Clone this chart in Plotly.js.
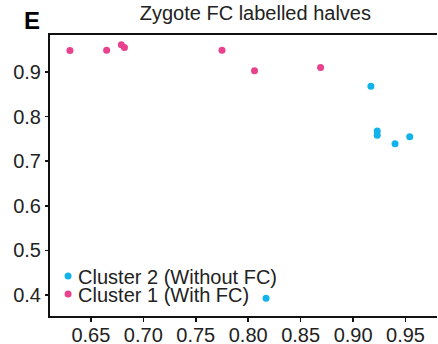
<!DOCTYPE html>
<html>
<head>
<meta charset="utf-8">
<script src="https://cdn.plot.ly/plotly-3.0.1.min.js"></script>
<style>html,body{margin:0;padding:0;background:#fff;}#chart{width:438px;height:344px;}
#chart .legendtext, #chart .legend2text{transform:translateX(-10px);}</style>
</head>
<body>
<div id="chart"></div>
<script>
const cluster1X = [0.630, 0.665, 0.679, 0.682, 0.775, 0.806, 0.869];
const cluster1Y = [0.948, 0.949, 0.961, 0.955, 0.949, 0.903, 0.910];
const cluster2X = [0.917, 0.923, 0.923, 0.940, 0.954, 0.817];
const cluster2Y = [0.868, 0.768, 0.758, 0.739, 0.755, 0.393];
const xTicks = [0.65, 0.70, 0.75, 0.80, 0.85, 0.90, 0.95];
const xTickText = ["0.65", "0.70", "0.75", "0.80", "0.85", "0.90", "0.95"];
const yTicks = [0.4, 0.5, 0.6, 0.7, 0.8, 0.9];
const yTickText = ["0.4", "0.5", "0.6", "0.7", "0.8", "0.9"];

const font = "Liberation Sans, Arial, sans-serif";
const traces = [
  {x: cluster2X, y: cluster2Y, mode: "markers", type: "scatter", name: "Cluster 2 (Without FC)",
   marker: {color: "#12b2ea", size: 7}, legend: "legend"},
  {x: cluster1X, y: cluster1Y, mode: "markers", type: "scatter", name: "Cluster 1 (With FC)",
   marker: {color: "#e8428f", size: 7}, legend: "legend2"}
];
const legendBase = {xanchor: "left", yanchor: "middle", bgcolor: "rgba(0,0,0,0)",
  font: {size: 20, color: "#222"}, itemwidth: 30};
const layout = {
  width: 438, height: 344,
  margin: {l: 50, r: 1, t: 35, b: 28},
  paper_bgcolor: "#fff", plot_bgcolor: "#fff",
  font: {family: font, color: "#222", size: 20},
  title: {text: "Zygote FC labelled halves", x: 0.583, xanchor: "center", y: 0.963, yanchor: "middle",
          font: {size: 20, family: font, color: "#222"}},
  xaxis: {range: [0.611, 0.98], tickvals: xTicks, ticktext: xTickText, showgrid: false, zeroline: false,
          showline: true, linecolor: "#111", linewidth: 2, mirror: true, ticks: "outside", ticklen: 4,
          tickcolor: "#111", tickwidth: 1.5, tickfont: {size: 20, color: "#222"}, ticklabelstandoff: -4},
  yaxis: {range: [0.353, 0.983], tickvals: yTicks, ticktext: yTickText, showgrid: false, zeroline: false,
          showline: true, linecolor: "#111", linewidth: 2, ticks: "outside", ticklen: 3,
          tickcolor: "#111", tickwidth: 1.5, tickfont: {size: 20, color: "#222"}},
  legend: Object.assign({x: -0.005, y: 0.142}, legendBase),
  legend2: Object.assign({x: -0.005, y: 0.078}, legendBase),
  showlegend: true,
  annotations: [{text: "<b>E</b>", xref: "paper", yref: "paper", x: -0.072, y: 1.052, xanchor: "left",
                 yanchor: "middle", showarrow: false, font: {size: 24, color: "#000", family: font}}]
};
Plotly.newPlot("chart", traces, layout, {displayModeBar: false, staticPlot: true});
</script>
</body>
</html>
